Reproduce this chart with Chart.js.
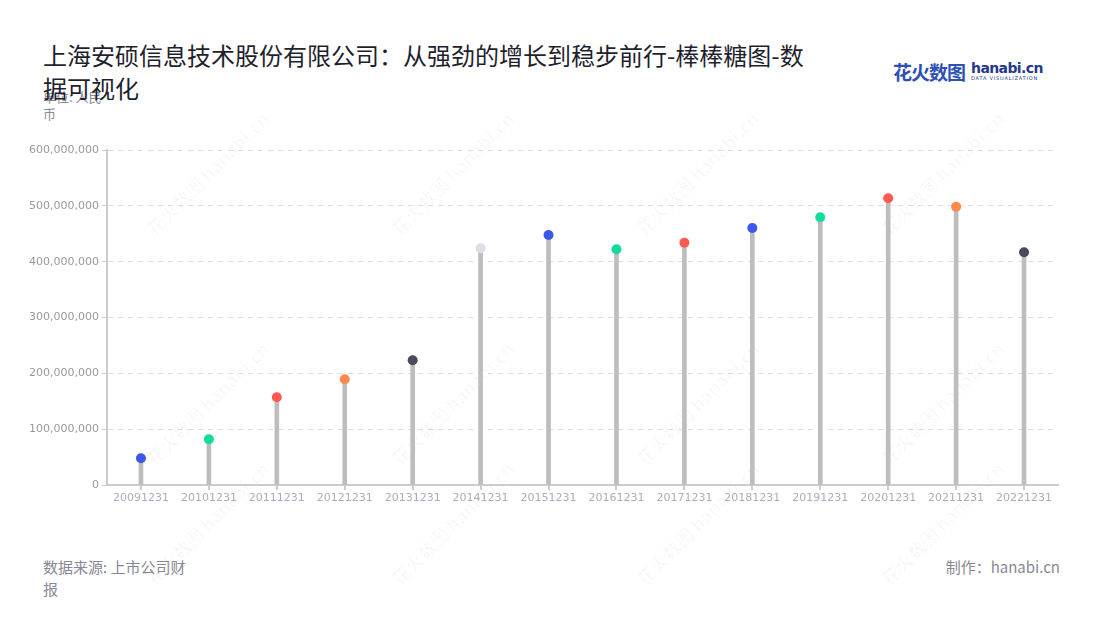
<!DOCTYPE html>
<html>
<head>
<meta charset="utf-8">
<script src="https://cdn.jsdelivr.net/npm/chart.js@4.4.1/dist/chart.umd.min.js"></script>
<style>
  html, body { margin: 0; padding: 0; background: #fff; }
  body { width: 1100px; height: 620px; position: relative; overflow: hidden;
         font-family: "Noto Sans CJK SC", "Noto Sans", sans-serif; }
  .title { position: absolute; left: 43px; top: 38px; width: 775px; font-size: 24px;
           line-height: 33px; color: #1f1f2e; z-index: 2; }
  .unit { position: absolute; left: 43px; top: 88px; width: 66px; font-size: 13px;
          line-height: 17px; color: #8a8a95; z-index: 1; }
  .source { position: absolute; left: 43px; top: 556px; width: 155px; font-size: 15px;
            line-height: 22px; color: #888893; }
  .maker { position: absolute; right: 40px; top: 556px; font-size: 15px; line-height: 22px;
           color: #888893; }
  .logo { position: absolute; left: 893px; top: 58px; height: 26px; white-space: nowrap; }
  .logo .cn { font-size: 19px; font-weight: 700; color: #2d50b5; letter-spacing: -1px; vertical-align: top; }
  .logo .en { display: inline-block; margin-left: 6px; vertical-align: top; line-height: 1; }
  .logo .en b { display: block; font-family: "DejaVu Sans", sans-serif; font-size: 14px; color: #233a8c; letter-spacing: -0.6px; margin-top: 3px; }
  .logo .en i { display: block; font-style: normal; font-family: "DejaVu Sans", sans-serif; font-size: 5px; color: #233a8c; letter-spacing: 0.8px; margin-top: 1px; }
  .wm { position: absolute; font-size: 18px; font-weight: 700; color: rgba(0,0,0,0.028);
        transform: rotate(-45deg); white-space: nowrap; pointer-events: none; }
  #wrap { position: absolute; left: 0; top: 140px; width: 1100px; height: 380px; }
</style>
</head>
<body>
<div class="title">上海安硕信息技术股份有限公司：从强劲的增长到稳步前行-棒棒糖图-数据可视化</div>
<div class="unit">单位: 人民币</div>
<div class="logo"><span class="cn">花火数图</span><span class="en"><b>hanabi.cn</b><i>DATA VISUALIZATION</i></span></div>
<div id="wms"></div>
<div id="wrap"><canvas id="chart"></canvas></div>
<div class="source">数据来源: 上市公司财报</div>
<div class="maker">制作：hanabi.cn</div>
<script>
// ---- data ----
const periods = ['20091231', '20101231', '20111231', '20121231', '20131231', '20141231', '20151231',
                 '20161231', '20171231', '20181231', '20191231', '20201231', '20211231', '20221231'];
const revenue = [47800000, 81900000, 157100000, 189300000, 223400000, 424000000, 447800000,
                 422200000, 434000000, 460300000, 479500000, 513500000, 498500000, 416800000];
const dotColors = ['#3c57ec', '#12dc9c', '#ff5a4f', '#ff8a4c', '#4b4b57', '#dcdfe8', '#3c57ec',
                   '#12dc9c', '#ff5a4f', '#3c57ec', '#12dc9c', '#ff5a4f', '#ff8a4c', '#4b4b57'];
const yTicks = [0, 100000000, 200000000, 300000000, 400000000, 500000000, 600000000];

// faint watermarks
const wms = document.getElementById('wms');
[[125, 160], [370, 160], [615, 160], [860, 160], [125, 390], [370, 390], [615, 390], [860, 390],
 [125, 510], [370, 510], [615, 510], [860, 510]].forEach(function(p) {
  const d = document.createElement('div');
  d.className = 'wm';
  d.style.left = p[0] + 'px';
  d.style.top = p[1] + 'px';
  d.textContent = '花火数图 hanabi.cn';
  wms.appendChild(d);
});

new Chart(document.getElementById('chart'), {
  type: 'bar',
  data: {
    labels: periods,
    datasets: [
      {
        type: 'line',
        data: revenue,
        showLine: false,
        pointRadius: 5,
        pointHoverRadius: 5,
        pointBorderWidth: 0,
        pointBackgroundColor: dotColors,
        pointBorderColor: dotColors
      },
      {
        type: 'bar',
        data: revenue,
        backgroundColor: '#bdbdbd',
        barThickness: 4
      }
    ]
  },
  options: {
    responsive: true,
    maintainAspectRatio: false,
    animation: false,
    layout: { padding: { left: 0, right: 42, top: 10, bottom: 0 } },
    plugins: { legend: { display: false }, tooltip: { enabled: false } },
    scales: {
      x: {
        offset: true,
        grid: { display: true, offset: false, drawOnChartArea: false, tickLength: 5, color: '#cccccc', lineWidth: 2 },
        border: { color: '#cccccc', width: 2 },
        ticks: { color: '#a9adbd', font: { family: 'DejaVu Sans', size: 11 }, padding: 2, maxRotation: 0, autoSkip: false },
        afterFit: function(s) { s.height = 35; }
      },
      y: {
        min: 0,
        max: 600000000,
        afterBuildTicks: function(s) { s.ticks = yTicks.map(function(v) { return { value: v }; }); },
        grid: { color: '#dddddd', lineWidth: 1, tickLength: 5,
                tickColor: '#cccccc', tickBorderDash: [] },
        border: { color: '#cccccc', width: 2, dash: [5, 5] },
        ticks: {
          color: '#999999',
          font: { family: 'DejaVu Sans', size: 11 },
          padding: 3,
          callback: function(v) { return Number(v).toLocaleString('en-US'); }
        },
        afterFit: function(s) { s.width = 107; }
      }
    }
  }
});
</script>
</body>
</html>
